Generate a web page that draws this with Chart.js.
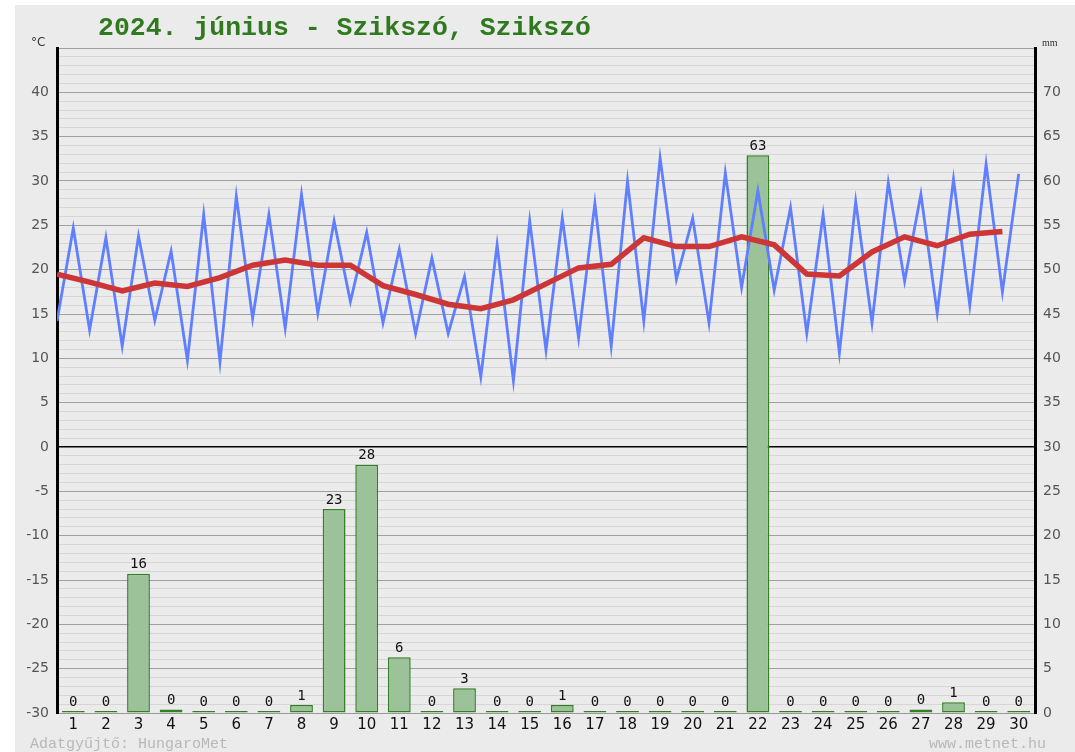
<!DOCTYPE html>
<html>
<head>
<meta charset="utf-8">
<script src="https://cdn.jsdelivr.net/npm/chart.js@4.4.1/dist/chart.umd.min.js"></script>
<style>
  html, body { margin: 0; padding: 0; background: #fff; }
  #wrap { position: relative; width: 1075px; height: 752px; }
</style>
</head>
<body>
<div id="wrap"><canvas id="myChart"></canvas></div>
<script>
// napok
var napok = [1,2,3,4,5,6,7,8,9,10,11,12,13,14,15,16,17,18,19,20,21,22,23,24,25,26,27,28,29,30];
// homerseklet (°C)
var tMin  = [14.2,13.2,11.4,14.3,9.8,9.6,14.5,13.4,15.1,16.4,14.0,12.8,12.8,7.9,7.5,10.9,12.3,11.4,14.2,18.9,14.0,18.0,17.7,12.8,10.6,14.0,18.7,15.1,16.0,17.5];
var tMax  = [24.7,23.6,23.8,22.1,26.2,28.3,26.2,28.5,25.5,24.2,22.3,21.3,19.2,22.8,25.5,25.8,27.5,30.0,32.6,25.8,30.9,28.9,27.0,26.2,27.7,29.8,28.5,30.2,31.9,30.8];
var tAtl  = [19.5,18.6,17.6,18.5,18.1,19.1,20.5,21.1,20.5,20.5,18.2,17.2,16.1,15.6,16.6,18.4,20.2,20.6,23.6,22.6,22.6,23.7,22.8,19.5,19.3,22.0,23.7,22.7,24.0,24.3];
// csapadek (mm)
var csapadek = [0,0,15.7,0.4,0,0.2,0.2,0.9,23.0,28.0,6.3,0,2.8,0,0,0.9,0,0,0,0,0,62.9,0,0,0,0,0.4,1.2,0,0];

var cim = "2024. június - Szikszó, Szikszó";
var forras = "Adatgyűjtő: HungaroMet";
var web = "www.metnet.hu";

// min/max cikk-cakk pontok: min a nap elejen, max a nap kozepen
var minmax = [];
napok.forEach(function (nap, i) {
  minmax.push({x: i, y: tMin[i]});
  minmax.push({x: i + 0.5, y: tMax[i]});
});
var atlag = [];
napok.forEach(function (nap, i) {
  atlag.push({x: i, y: tAtl[i]});
});

var szovegek = {
  id: 'szovegek',
  beforeDraw: function (chart) {
    var ctx = chart.ctx;
    ctx.save();
    ctx.fillStyle = '#ebebeb';
    ctx.fillRect(15, 5, chart.width - 15, chart.height - 5);
    ctx.restore();
  },
  afterDraw: function (chart) {
    var ctx = chart.ctx;
    ctx.save();
    // cim
    ctx.fillStyle = '#2f7a1f';
    ctx.font = 'bold 26.5px "Courier New", "Liberation Mono", monospace';
    ctx.textBaseline = 'alphabetic';
    ctx.textAlign = 'left';
    ctx.fillText(cim, 98, 35);
    // mertekegysegek
    ctx.fillStyle = '#333';
    ctx.font = '12px "DejaVu Sans", sans-serif';
    ctx.fillText('°C', 31, 46);
    ctx.font = '10px "Liberation Serif", serif';
    ctx.fillText('mm', 1042, 46);
    // lablec
    ctx.fillStyle = '#b8b8b8';
    ctx.font = '15px "Courier New", "Liberation Mono", monospace';
    ctx.fillText(forras, 30, 748);
    ctx.textAlign = 'right';
    ctx.fillText(web, 1046, 748);
    // csapadek feliratok
    var meta = chart.getDatasetMeta(0);
    ctx.fillStyle = '#111';
    ctx.font = '14px "DejaVu Sans Mono", monospace';
    ctx.textAlign = 'center';
    ctx.textBaseline = 'bottom';
    meta.data.forEach(function (bar, i) {
      ctx.fillText(String(Math.round(csapadek[i])), bar.x, bar.y - 2);
    });
    ctx.restore();
  }
};

var ctx = document.getElementById('myChart');
new Chart(ctx, {
  type: 'line',
  data: {
    labels: napok,
    datasets: [
      {
        type: 'bar',
        label: 'csapadék',
        data: csapadek,
        xAxisID: 'x',
        yAxisID: 'y2',
        backgroundColor: '#9cc29a',
        borderColor: '#347f22',
        borderWidth: 1.5,
        borderSkipped: false,
        minBarLength: 2,
        grouped: false,
        barPercentage: 0.7,
        categoryPercentage: 1,
        order: 2
      },
      {
        type: 'line',
        label: 'min/max',
        data: minmax,
        xAxisID: 'xl',
        yAxisID: 'y',
        borderColor: '#5f7fff',
        borderWidth: 2.8,
        pointRadius: 0,
        tension: 0,
        order: 1
      },
      {
        type: 'line',
        label: 'átlag',
        data: atlag,
        xAxisID: 'xl',
        yAxisID: 'y',
        borderColor: '#cc3636',
        borderWidth: 5.5,
        pointRadius: 0,
        tension: 0,
        order: 0
      }
    ]
  },
  options: {
    responsive: true,
    maintainAspectRatio: false,
    animation: false,
    layout: { padding: { top: 48, left: 0, right: 0, bottom: 0 } },
    plugins: {
      legend: { display: false },
      tooltip: { enabled: false }
    },
    scales: {
      x: {
        type: 'category',
        offset: true,
        grid: { display: false, drawTicks: false, offset: true },
        border: { color: '#999', width: 1 },
        ticks: {
          color: '#111',
          font: { family: '"DejaVu Sans"', size: 15 },
          padding: 3,
          maxRotation: 0,
          autoSkip: false
        },
        afterFit: function (scale) { scale.height = 39; }
      },
      xl: {
        type: 'linear',
        display: false,
        offset: false,
        min: 0,
        max: 30
      },
      y: {
        position: 'left',
        min: -30,
        max: 45,
        ticks: {
          stepSize: 1,
          autoSkip: false,
          color: '#555',
          padding: 8,
          font: { family: '"DejaVu Sans"', size: 14 },
          callback: function (v) {
            if (v % 5 === 0 && v < 45) return v;
            return '';
          }
        },
        grid: {
          drawTicks: false,
          lineWidth: function (c) { return c.tick && c.tick.value === 0 ? 1.5 : 1; },
          color: function (c) {
            var v = c.tick ? c.tick.value : 1;
            if (v === 0) return '#000';
            if (v % 5 === 0) return '#a0a0a0';
            return '#d6d6d6';
          }
        },
        border: { color: '#000', width: 3 },
        afterFit: function (scale) { scale.width = 57; }
      },
      y2: {
        position: 'right',
        min: 0,
        max: 75,
        ticks: {
          stepSize: 5,
          color: '#555',
          padding: 8,
          font: { family: '"DejaVu Sans"', size: 14 },
          callback: function (v) { return v < 75 ? v : ''; }
        },
        grid: { drawOnChartArea: false, drawTicks: false },
        border: { color: '#000', width: 3 },
        afterFit: function (scale) { scale.width = 40; }
      }
    }
  },
  plugins: [szovegek]
});
</script>
</body>
</html>
